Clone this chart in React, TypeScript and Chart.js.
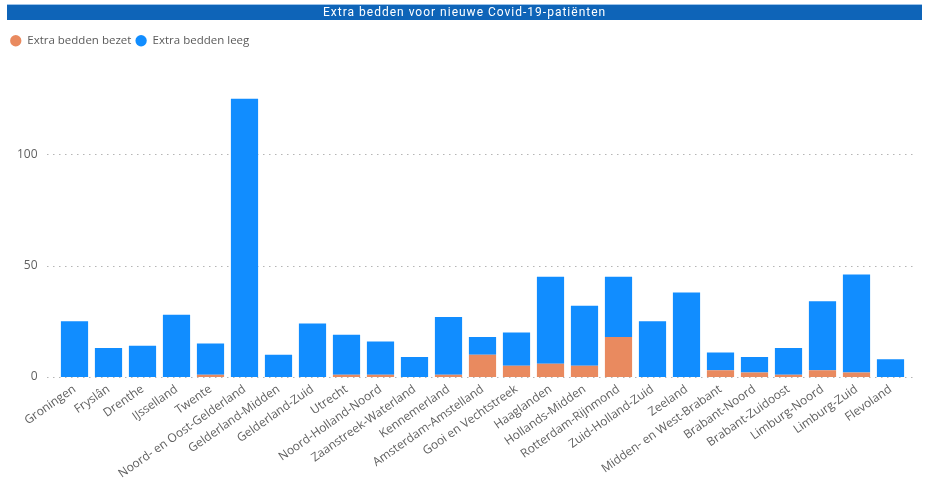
import React, { useEffect, useRef } from "react";
import { Chart, registerables } from "chart.js";

Chart.register(...registerables);

const TITLE = "Extra bedden voor nieuwe Covid-19-patiënten";
const seriesNames = ["Extra bedden bezet", "Extra bedden leeg"];
const categories = [
  "Groningen",
  "Fryslân",
  "Drenthe",
  "IJsselland",
  "Twente",
  "Noord- en Oost-Gelderland",
  "Gelderland-Midden",
  "Gelderland-Zuid",
  "Utrecht",
  "Noord-Holland-Noord",
  "Zaanstreek-Waterland",
  "Kennemerland",
  "Amsterdam-Amstelland",
  "Gooi en Vechtstreek",
  "Haaglanden",
  "Hollands-Midden",
  "Rotterdam-Rijnmond",
  "Zuid-Holland-Zuid",
  "Zeeland",
  "Midden- en West-Brabant",
  "Brabant-Noord",
  "Brabant-Zuidoost",
  "Limburg-Noord",
  "Limburg-Zuid",
  "Flevoland",
];
const bezet = [0, 0, 0, 0, 1, 0, 0, 0, 1, 1, 0, 1, 10, 5, 6, 5, 18, 0, 0, 3, 2, 1, 3, 2, 0];
const leeg = [25, 13, 14, 28, 14, 125, 10, 24, 18, 15, 9, 26, 8, 15, 39, 27, 27, 25, 38, 8, 7, 12, 31, 44, 8];
const yTicks = [0, 50, 100];

const FONT = "'Segoe UI', 'Open Sans', sans-serif";

const titleBarPlugin = {
  id: "titleBar",
  beforeDraw(chart: any) {
    const ctx = chart.ctx;
    ctx.save();
    ctx.fillStyle = "#0E64B8";
    ctx.fillRect(7, 4, 915, 16);
    ctx.fillStyle = "#9cc3ea";
    ctx.fillRect(7, 4, 915, 1);
    ctx.fillStyle = "#ffffff";
    ctx.font = "12px Roboto";
    const w = ctx.measureText(TITLE).width;
    const sp = Math.max(0, (283 - w) / TITLE.length);
    (ctx as any).letterSpacing = sp.toFixed(2) + "px";
    ctx.textAlign = "left";
    ctx.textBaseline = "middle";
    ctx.fillText(TITLE, 323, 12.5);
    ctx.restore();
  },
};

const dotGridPlugin = {
  id: "dotGrid",
  beforeDatasetsDraw(chart: any) {
    const ctx = chart.ctx;
    const y = chart.scales.y;
    ctx.save();
    ctx.strokeStyle = "#b5b5b5";
    ctx.lineWidth = 1;
    ctx.setLineDash([1.5, 4.5]);
    yTicks.forEach((v) => {
      const py = Math.round(y.getPixelForValue(v)) + 0.5;
      ctx.beginPath();
      ctx.moveTo(47, py);
      ctx.lineTo(914, py);
      ctx.stroke();
    });
    ctx.restore();
  },
};

export default function App() {
  const ref = useRef<HTMLCanvasElement | null>(null);

  useEffect(() => {
    if (!ref.current) return;
    const chart = new Chart(ref.current, {
      type: "bar",
      data: {
        labels: categories,
        datasets: [
          {
            label: seriesNames[0],
            data: bezet,
            backgroundColor: "#E98A5F",
            categoryPercentage: 0.8,
            barPercentage: 1,
          },
          {
            label: seriesNames[1],
            data: leeg,
            backgroundColor: "#118DFF",
            categoryPercentage: 0.8,
            barPercentage: 1,
          },
        ],
      },
      options: {
        animation: false,
        responsive: true,
        maintainAspectRatio: false,
        layout: { padding: { top: 31, left: 6, right: 18.5, bottom: 0 } },
        plugins: {
          title: { display: false },
          tooltip: { enabled: false },
          legend: {
            position: "top",
            align: "start",
            labels: {
              usePointStyle: true,
              pointStyle: "circle",
              boxWidth: 12,
              boxHeight: 8,
              padding: 4,
              color: "#5a5a5a",
              font: { family: FONT, size: 11.5 },
            },
          },
        },
        scales: {
          x: {
            stacked: true,
            grid: { display: false, drawTicks: false },
            border: { display: false },
            ticks: {
              autoSkip: false,
              minRotation: 35,
              maxRotation: 35,
              padding: 5,
              color: "#606060",
              font: { family: FONT, size: 12 },
            },
            afterFit: (s: any) => {
              s.height = 104;
            },
          },
          y: {
            stacked: true,
            min: 0,
            max: 144,
            grid: { display: false, drawTicks: false },
            border: { display: false },
            ticks: {
              padding: 20,
              color: "#606060",
              font: { family: FONT, size: 12 },
            },
            afterBuildTicks: (s: any) => {
              s.ticks = yTicks.map((v) => ({ value: v }));
            },
            afterFit: (s: any) => {
              s.width = 51.5;
            },
          },
        },
      },
      plugins: [titleBarPlugin, dotGridPlugin],
    });
    return () => chart.destroy();
  }, []);

  return (
    <div style={{ position: "fixed", left: 0, top: 0, width: 926, height: 481, background: "#fff" }}>
      <canvas ref={ref} />
    </div>
  );
}
